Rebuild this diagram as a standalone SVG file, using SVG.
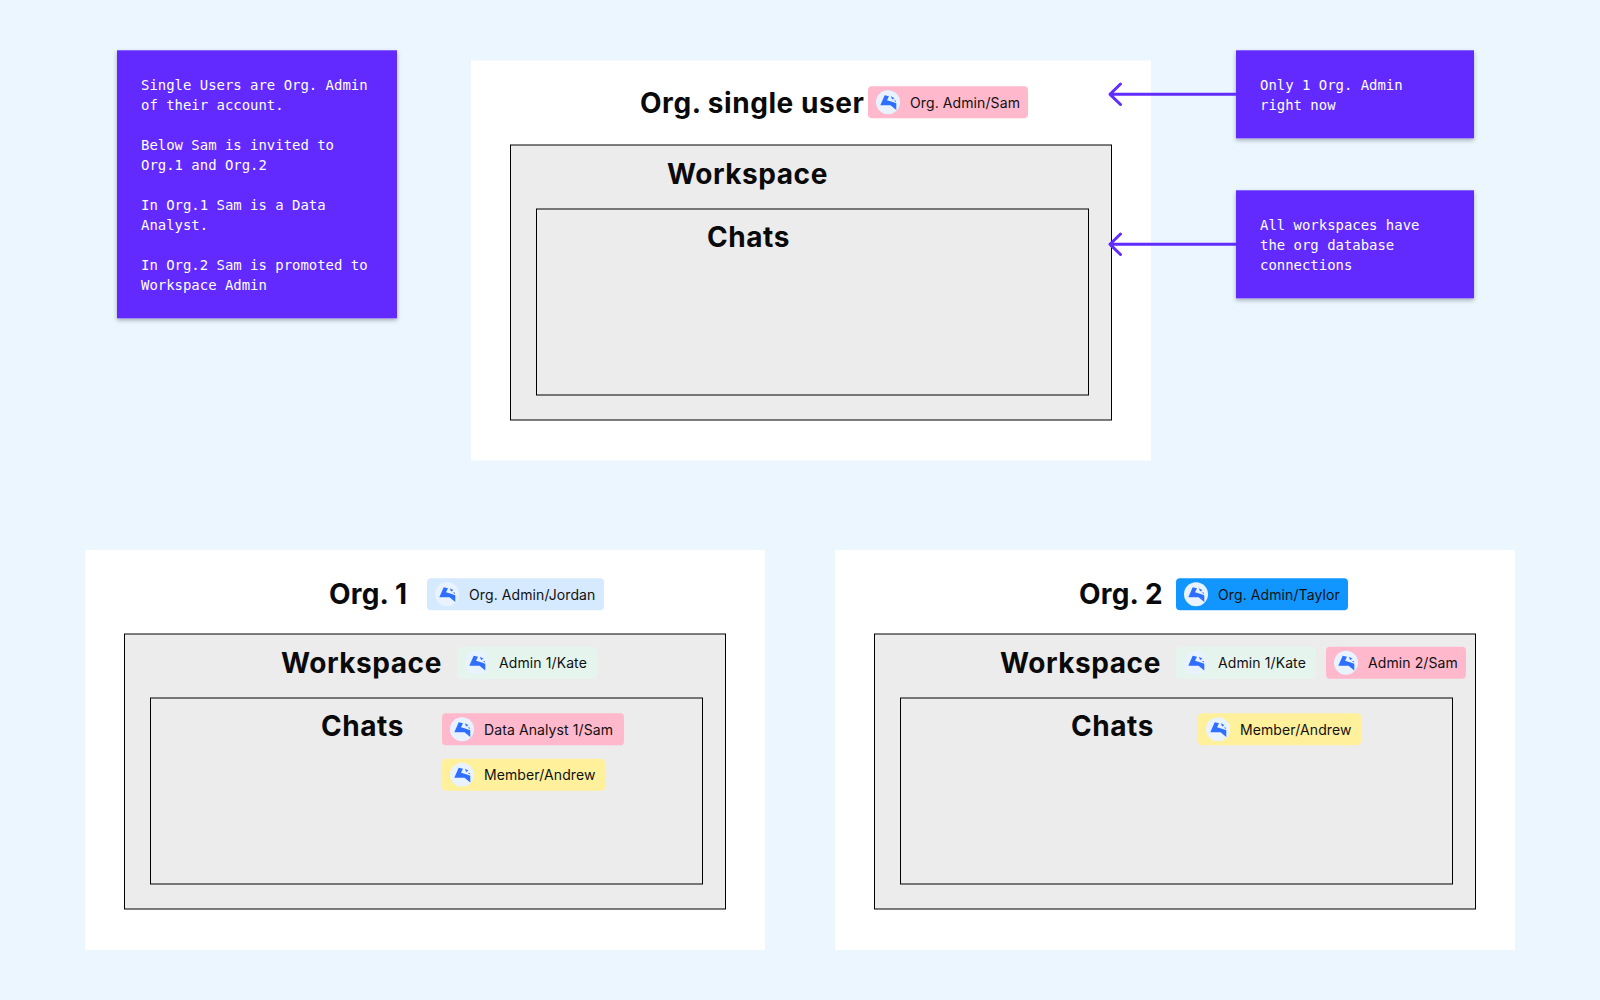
<svg xmlns="http://www.w3.org/2000/svg" width="1600" height="1000" viewBox="0 0 1600 1000">
<style>
.panel{fill:#fff}
.box{fill:#ececec;stroke:#000;stroke-width:1}
.title{font-family:"Inter","Liberation Sans",sans-serif;font-weight:700;font-size:28px;letter-spacing:.55px;fill:#0a0a0a}
.tight{letter-spacing:.2px}
.chip-t{font-family:"Inter","Liberation Sans",sans-serif;font-size:14px;letter-spacing:.1px;fill:#111}
.note{fill:#622cff;filter:url(#sh)}
.note-t{font-family:"DejaVu Sans Mono","Liberation Mono",monospace;font-size:13.95px;fill:#fff}
.conn{fill:none;stroke:#622cff;stroke-width:3;stroke-linecap:round;stroke-linejoin:round}
.ib{fill:#2f6fff}
</style>
<defs>
<filter id="sh" x="-10%" y="-10%" width="120%" height="120%"><feDropShadow dx="0" dy="2" stdDeviation="2" flood-color="#000" flood-opacity="0.3"/></filter>
<g id="ic"><path class="ib" d="M-3.3 -7 L1 -6 L-1 -2 L4 -0.5 L8.3 1 L8.3 7.7 L2.5 3 L-7.7 3 Z"/><path class="ib" d="M3 -6 L6.5 -4 L4 -2.8 Z M5.5 -2 L8 -1.5 L8 -0.2 Z"/></g>
</defs>
<rect width="1600" height="1000" fill="#ebf6ff"/>

<g id="org-single">
<rect class="panel" x="471" y="60.5" width="680" height="400"/>
<rect class="box" x="510.5" y="145" width="601" height="275"/>
<rect class="box" x="536.5" y="209" width="552" height="186"/>
<text class="title" x="640" y="113">Org. single user</text>
<text class="title" x="667" y="184">Workspace</text>
<text class="title" x="707" y="247">Chats</text>
<g id="chip-single-admin"><rect x="868" y="86.3" width="160" height="32" rx="4" fill="#ffb8cc"/><circle cx="888" cy="102.3" r="12" fill="#e8f3ff"/><use href="#ic" x="888" y="102.3"/><text class="chip-t" x="910" y="107.5">Org. Admin/Sam</text></g>
</g>

<g id="org-1">
<rect class="panel" x="85" y="550" width="680" height="400"/>
<rect class="box" x="124.5" y="634" width="601" height="275"/>
<rect class="box" x="150.5" y="698" width="552" height="186"/>
<text class="title tight" x="329" y="604">Org. 1</text>
<text class="title" x="281" y="673">Workspace</text>
<text class="title" x="321" y="736">Chats</text>
<g id="chip-o1-admin"><rect x="427" y="578.3" width="177" height="32" rx="4" fill="#d6eaff"/><circle cx="447" cy="594.3" r="12" fill="#e8f3ff"/><use href="#ic" x="447" y="594.3"/><text class="chip-t" x="469" y="599.5">Org. Admin/Jordan</text></g>
<g id="chip-o1-kate"><rect x="457" y="646.7" width="140" height="32" rx="4" fill="#e6f4ee"/><circle cx="477" cy="662.7" r="12" fill="#e8f3ff"/><use href="#ic" x="477" y="662.7"/><text class="chip-t" x="499" y="668">Admin 1/Kate</text></g>
<g id="chip-o1-sam"><rect x="442" y="713.3" width="182" height="32" rx="4" fill="#ffb8cc"/><circle cx="462" cy="729.3" r="12" fill="#e8f3ff"/><use href="#ic" x="462" y="729.3"/><text class="chip-t" x="484" y="734.5">Data Analyst 1/Sam</text></g>
<g id="chip-o1-andrew"><rect x="442" y="758.7" width="163" height="32" rx="4" fill="#fff09c"/><circle cx="462" cy="774.7" r="12" fill="#e8f3ff"/><use href="#ic" x="462" y="774.7"/><text class="chip-t" x="484" y="780">Member/Andrew</text></g>
</g>

<g id="org-2">
<rect class="panel" x="835" y="550" width="680" height="400"/>
<rect class="box" x="874.5" y="634" width="601" height="275"/>
<rect class="box" x="900.5" y="698" width="552" height="186"/>
<text class="title tight" x="1079" y="604">Org. 2</text>
<text class="title" x="1000" y="673">Workspace</text>
<text class="title" x="1071" y="736">Chats</text>
<g id="chip-o2-admin"><rect x="1176" y="578.3" width="172" height="32" rx="4" fill="#1196ff"/><circle cx="1196" cy="594.3" r="12" fill="#e8f3ff"/><use href="#ic" x="1196" y="594.3"/><text class="chip-t" x="1218" y="599.5">Org. Admin/Taylor</text></g>
<g id="chip-o2-kate"><rect x="1176" y="646.7" width="140" height="32" rx="4" fill="#e6f4ee"/><circle cx="1196" cy="662.7" r="12" fill="#e8f3ff"/><use href="#ic" x="1196" y="662.7"/><text class="chip-t" x="1218" y="668">Admin 1/Kate</text></g>
<g id="chip-o2-sam"><rect x="1326" y="646.7" width="140" height="32" rx="4" fill="#ffb8cc"/><circle cx="1346" cy="662.7" r="12" fill="#e8f3ff"/><use href="#ic" x="1346" y="662.7"/><text class="chip-t" x="1368" y="668">Admin 2/Sam</text></g>
<g id="chip-o2-andrew"><rect x="1198" y="713.3" width="163" height="32" rx="4" fill="#fff09c"/><circle cx="1218" cy="729.3" r="12" fill="#e8f3ff"/><use href="#ic" x="1218" y="729.3"/><text class="chip-t" x="1240" y="734.5">Member/Andrew</text></g>
</g>

<g id="note-single">
<rect class="note" x="117" y="50.3" width="280" height="268"/>
<text class="note-t"><tspan x="141" y="90">Single Users are Org. Admin</tspan><tspan x="141" y="110">of their account.</tspan><tspan x="141" y="150">Below Sam is invited to</tspan><tspan x="141" y="170">Org.1 and Org.2</tspan><tspan x="141" y="210">In Org.1 Sam is a Data</tspan><tspan x="141" y="230">Analyst.</tspan><tspan x="141" y="270">In Org.2 Sam is promoted to</tspan><tspan x="141" y="290">Workspace Admin</tspan></text>
</g>
<g id="note-admin">
<rect class="note" x="1236" y="50.3" width="238" height="88"/>
<text class="note-t"><tspan x="1260" y="90">Only 1 Org. Admin</tspan><tspan x="1260" y="110">right now</tspan></text>
</g>
<g id="note-workspaces">
<rect class="note" x="1236" y="190.3" width="238" height="108"/>
<text class="note-t"><tspan x="1260" y="230">All workspaces have</tspan><tspan x="1260" y="250">the org database</tspan><tspan x="1260" y="270">connections</tspan></text>
</g>

<g id="connectors">
<path class="conn" d="M1236 94.3H1110M1120.5 84 L1110 94.3 L1120.5 104.5"/>
<path class="conn" d="M1236 244.3H1110M1120.5 234 L1110 244.3 L1120.5 254.5"/>
</g>
</svg>
